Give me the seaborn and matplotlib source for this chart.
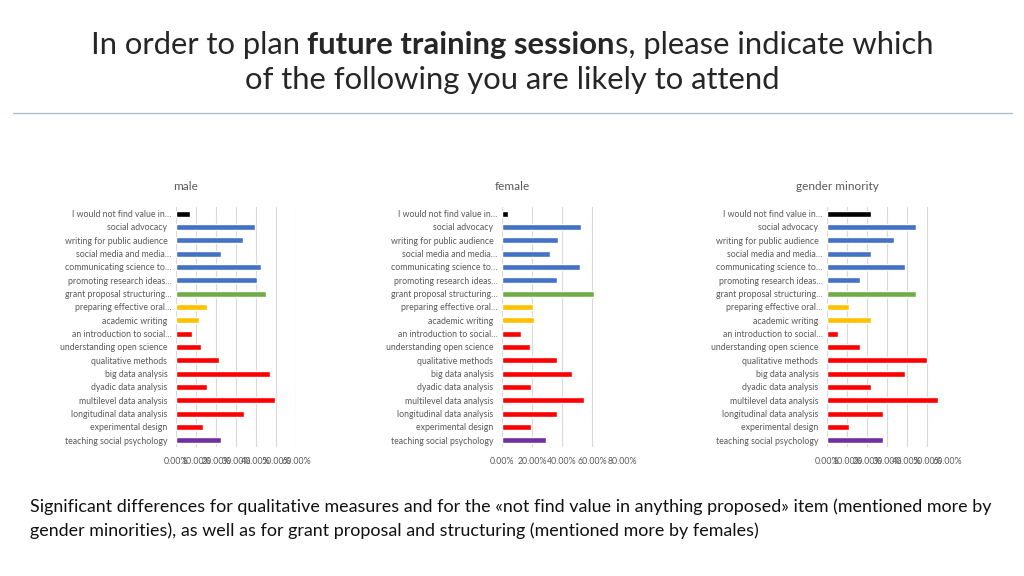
import numpy as np
import pandas as pd
import matplotlib.pyplot as plt
import seaborn as sns
from matplotlib.lines import Line2D
from matplotlib.ticker import FuncFormatter, MultipleLocator

sns.set_style("white")
plt.rcParams['font.family'] = ['Lato', 'DejaVu Sans']

# categories (top to bottom)
items = [
    "I would not find value in…",
    "social advocacy  ",
    "writing for public audience  ",
    "social media and media…",
    "communicating science to…",
    "promoting research ideas…",
    "grant proposal structuring…",
    "preparing effective oral…",
    "academic writing  ",
    "an introduction to social…",
    "understanding open science  ",
    "qualitative methods  ",
    "big data analysis  ",
    "dyadic data analysis  ",
    "multilevel data analysis  ",
    "longitudinal data analysis  ",
    "experimental design  ",
    "teaching social psychology  ",
]
bar_colors = ["#000000"] + ["#4472C4"] * 5 + ["#70AD47"] + ["#FFC000"] * 2 + ["#FF0000"] * 8 + ["#7030A0"]

male = [0.071, 0.395, 0.334, 0.224, 0.424, 0.405, 0.450, 0.153, 0.116, 0.081,
        0.125, 0.216, 0.468, 0.153, 0.495, 0.342, 0.135, 0.224]
female = [0.040, 0.527, 0.371, 0.318, 0.520, 0.364, 0.613, 0.204, 0.216, 0.127,
          0.184, 0.364, 0.464, 0.196, 0.544, 0.367, 0.196, 0.291]
minority = [0.222, 0.444, 0.333, 0.222, 0.389, 0.167, 0.444, 0.111, 0.222, 0.056,
            0.167, 0.500, 0.389, 0.222, 0.556, 0.278, 0.111, 0.278]

panels = [
    ("male", male, 0.60, 0.10, 176),
    ("female", female, 0.80, 0.20, 502),
    ("gender minority", minority, 0.60, 0.10, 827),
]

W, H = 1024, 576
fig = plt.figure(figsize=(W / 100, H / 100), dpi=100)

palette = dict(zip(items, bar_colors))
for name, vals, xmax, step, left in panels:
    ax = fig.add_axes([left / W, 1 - 447 / H, 120 / W, 240 / H])
    df = pd.DataFrame({"item": items, "value": vals})
    sns.barplot(data=df, x="value", y="item", hue="item", palette=palette,
                legend=False, ax=ax, width=0.45, orient="h", saturation=1)
    ax.set_xlim(0, xmax)
    ax.set_ylim(len(items) - 0.5, -0.5)
    ax.xaxis.set_major_locator(MultipleLocator(step))
    ax.xaxis.set_major_formatter(FuncFormatter(lambda v, p: f"{v * 100:.2f}%"))
    ax.grid(axis="x", color="#D9D9D9", linewidth=0.8)
    ax.set_axisbelow(True)
    for s in ax.spines.values():
        s.set_visible(False)
    ax.tick_params(axis="both", length=0, labelsize=6.3, labelcolor="#595959")
    ax.tick_params(axis="x", pad=7)
    ax.tick_params(axis="y", pad=3)
    ax.set_xlabel("")
    ax.set_ylabel("")
    fig.text((left + 10) / W, 1 - 186 / H, name, ha="center", va="center",
             fontsize=8.5, color="#595959")

# title with bold part
renderer = fig.canvas.get_renderer()
tsize = 22.3
parts = [("In order to plan ", "normal"), ("future training session", "bold"),
         ("s, please indicate which", "normal")]
texts = []
for s, w in parts:
    t = fig.text(0, 1 - 45 / H, s, fontsize=tsize, fontweight=w, va="center",
                 ha="left", color="#262626")
    texts.append(t)
widths = [t.get_window_extent(renderer).width for t in texts]
x = W / 2 - sum(widths) / 2
for t, wd in zip(texts, widths):
    t.set_x(x / W)
    x += wd
fig.text(0.5, 1 - 80 / H, "of the following you are likely to attend", fontsize=tsize,
         fontweight="normal", ha="center", va="center", color="#262626")

fig.add_artist(Line2D([13 / W, 1012 / W], [1 - 113 / H, 1 - 113 / H],
                      color="#A6B9D3", linewidth=0.9))

fig.text(30 / W, 1 - 507 / H,
         "Significant differences for qualitative measures and for the «not find value in anything proposed» item (mentioned more by",
         fontsize=12.9, ha="left", va="center", color="#111111")
fig.text(30 / W, 1 - 531 / H,
         "gender minorities), as well as for grant proposal and structuring (mentioned more by females)",
         fontsize=12.9, ha="left", va="center", color="#111111")

fig.savefig("out.png", dpi=100)
